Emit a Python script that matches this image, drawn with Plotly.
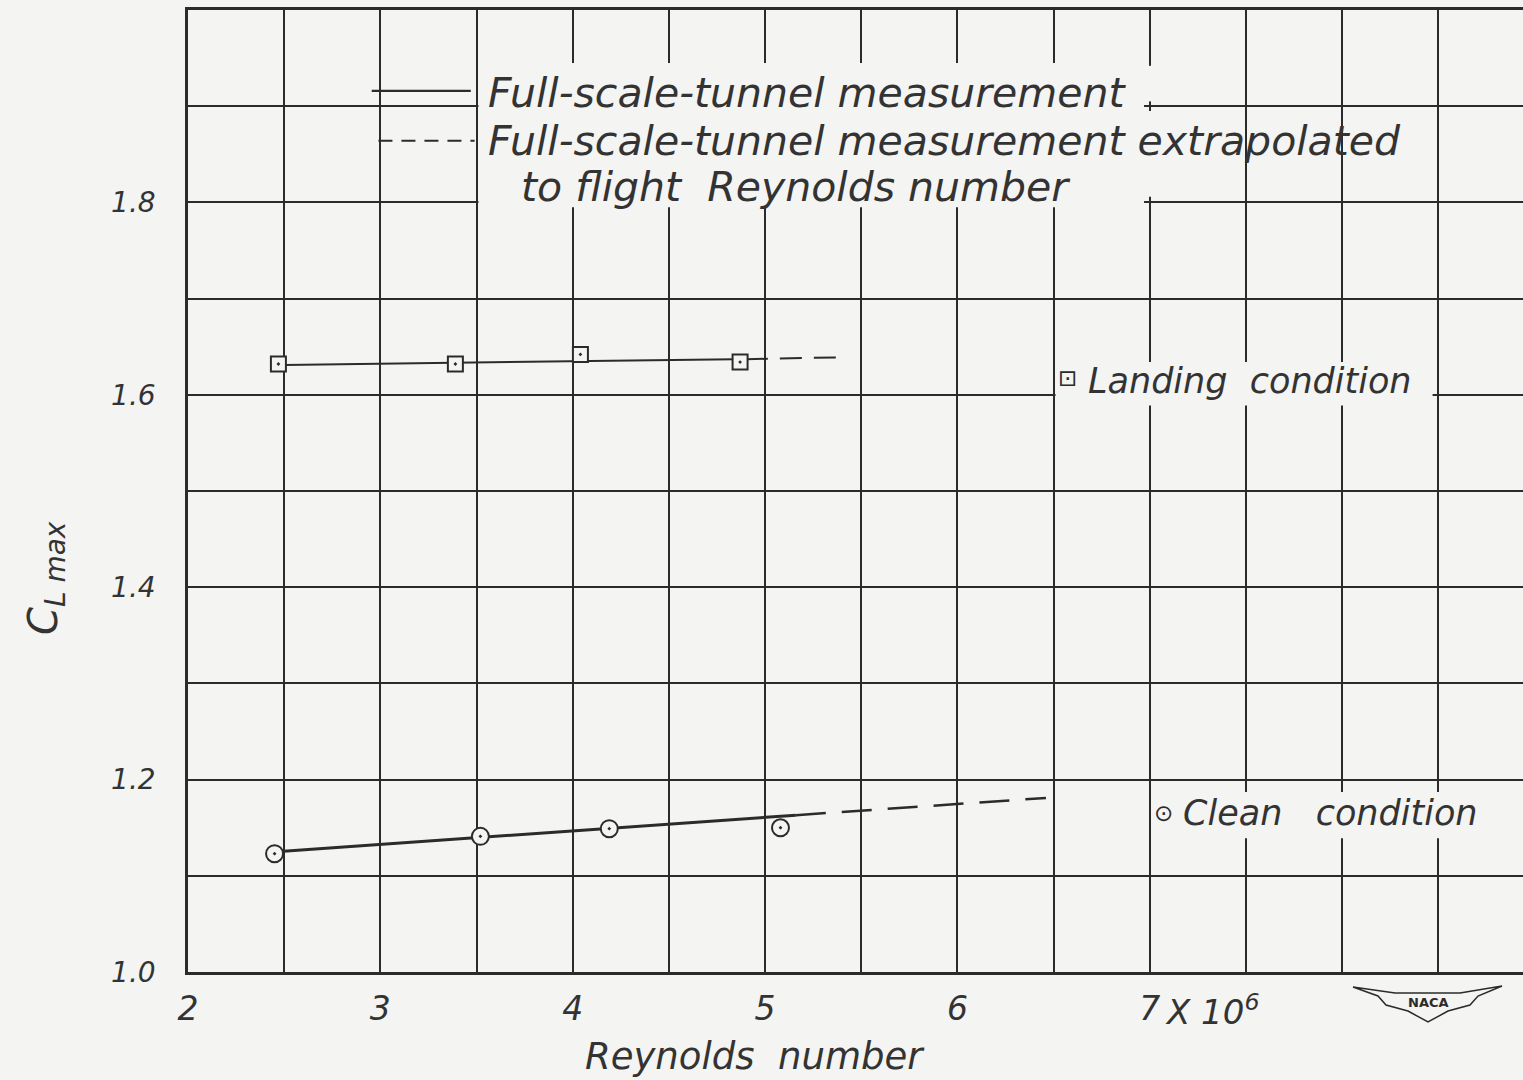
import plotly.graph_objects as go

# ---------------- data ----------------
landing_re = [2.47, 3.39, 4.04, 4.87]
landing_cl = [1.632, 1.632, 1.642, 1.634]
landing_fair_re = [2.50, 4.84]
landing_fair_cl = [1.631, 1.637]
landing_extrap_re = [4.90, 5.40]
landing_extrap_cl = [1.637, 1.639]

clean_re = [2.45, 3.52, 4.19, 5.08]
clean_cl = [1.123, 1.141, 1.149, 1.150]
clean_fair_re = [2.46, 5.16]
clean_fair_cl = [1.125, 1.163]
clean_extrap_re = [5.16, 6.46]
clean_extrap_cl = [1.163, 1.181]

x_tick_vals = [2, 3, 4, 5, 6, 7]
x_tick_text = ["2", "3", "4", "5", "6", "7"]
y_tick_vals = [1.0, 1.2, 1.4, 1.6, 1.8]
y_tick_text = ["1.0", "1.2", "1.4", "1.6", "1.8"]

legend_lines = [
    "Full-scale-tunnel measurement",
    "Full-scale-tunnel measurement extrapolated",
    "to flight  Reynolds number",
]
x_title = "Reynolds  number"
y_title = "C<sub>L max</sub>"
landing_label = "Landing  condition"
clean_label = "Clean   condition"
exponent_label = "X 10<sup>6</sup>"

# ---------------- style ----------------
INK = "#2b2b2b"
TXT = "#333333"
BG = "#f4f4f2"
FONT = "DejaVu Sans, sans-serif"
GRID_W = 2.4

fig = go.Figure()

# fairing lines
fig.add_trace(go.Scatter(x=landing_fair_re, y=landing_fair_cl, mode="lines",
                         line=dict(color=INK, width=2), hoverinfo="skip"))
fig.add_trace(go.Scatter(x=landing_extrap_re, y=landing_extrap_cl, mode="lines",
                         line=dict(color=INK, width=2, dash="22px,12px"), hoverinfo="skip"))
fig.add_trace(go.Scatter(x=clean_fair_re, y=clean_fair_cl, mode="lines",
                         line=dict(color=INK, width=3), hoverinfo="skip"))
fig.add_trace(go.Scatter(x=clean_extrap_re, y=clean_extrap_cl, mode="lines",
                         line=dict(color=INK, width=2.5, dash="30px,16px"), hoverinfo="skip"))

# measured points
fig.add_trace(go.Scatter(x=landing_re, y=landing_cl, mode="markers",
                         marker=dict(symbol="square-dot", size=15, color=BG,
                                     line=dict(color=INK, width=2))))
fig.add_trace(go.Scatter(x=clean_re, y=clean_cl, mode="markers",
                         marker=dict(symbol="circle-dot", size=17, color=BG,
                                     line=dict(color=INK, width=2))))

# ---------------- blank areas behind lettering ----------------
def blank(x0, x1, y0, y1):
    fig.add_shape(type="rect", xref="x", yref="y", x0=x0, x1=x1, y0=y0, y1=y1,
                  fillcolor=BG, line=dict(width=0), layer="above")

blank(3.51, 6.97, 1.795, 1.945)
blank(6.97, 7.03, 1.905, 1.942)
blank(6.97, 7.03, 1.806, 1.895)
blank(6.51, 8.47, 1.589, 1.634)
blank(7.01, 8.80, 1.139, 1.187)

# legend key lines
fig.add_shape(type="line", xref="x", yref="y", x0=2.955, x1=3.47, y0=1.916, y1=1.916,
              line=dict(color=INK, width=2.2), layer="above")
fig.add_shape(type="line", xref="x", yref="y", x0=2.99, x1=3.49, y0=1.864, y1=1.864,
              line=dict(color=INK, width=2, dash="14px,9px"), layer="above")

tfont = dict(family=FONT, size=41, color=TXT, style="italic")
lfont = dict(family=FONT, size=35, color=TXT, style="italic")

fig.add_annotation(x=3.55, y=1.914, xref="x", yref="y", text=legend_lines[0],
                   showarrow=False, xanchor="left", yanchor="middle", font=tfont)
fig.add_annotation(x=3.55, y=1.864, xref="x", yref="y", text=legend_lines[1],
                   showarrow=False, xanchor="left", yanchor="middle", font=tfont)
fig.add_annotation(x=3.72, y=1.816, xref="x", yref="y", text=legend_lines[2],
                   showarrow=False, xanchor="left", yanchor="middle", font=tfont)

mark_font = dict(family="DejaVu Sans", size=23, color=INK)
fig.add_annotation(x=6.51, y=1.617, xref="x", yref="y", text="⊡", showarrow=False,
                   xanchor="left", yanchor="middle", font=mark_font)
fig.add_annotation(x=6.67, y=1.614, xref="x", yref="y", text=landing_label,
                   showarrow=False, xanchor="left", yanchor="middle", font=lfont)
fig.add_annotation(x=7.01, y=1.165, xref="x", yref="y", text="⊙", showarrow=False,
                   xanchor="left", yanchor="middle", font=mark_font)
fig.add_annotation(x=7.16, y=1.165, xref="x", yref="y", text=clean_label,
                   showarrow=False, xanchor="left", yanchor="middle", font=lfont)

# x exponent after the "7" tick label
fig.add_annotation(x=7.07, y=-0.04, xref="x", yref="paper", text=exponent_label,
                   showarrow=False, xanchor="left", yanchor="middle",
                   font=dict(family=FONT, size=34, color=TXT, style="italic"))

# axis titles
fig.add_annotation(x=(755 - 188) / 1335, y=(972 - 1056) / 962, xref="paper", yref="paper",
                   text=x_title, showarrow=False, xanchor="center", yanchor="middle",
                   font=dict(family=FONT, size=37, color=TXT, style="italic"))
fig.add_annotation(x=(46 - 188) / 1335, y=(972 - 578) / 962, xref="paper", yref="paper",
                   text=y_title, showarrow=False, textangle=-90,
                   xanchor="center", yanchor="middle",
                   font=dict(family=FONT, size=40, color=TXT, style="italic"))

# NACA emblem (decoration)
def px(xp, yp):
    return (xp - 188) / 1335, (972 - yp) / 962

pts = [(1353, 987), (1395, 993), (1460, 993), (1502, 986), (1478, 996), (1470, 1005),
       (1448, 1011), (1428, 1022), (1408, 1011), (1386, 1005), (1378, 996)]
path = "M " + " L ".join("%.5f,%.5f" % px(a, b) for a, b in pts) + " Z"
fig.add_shape(type="path", xref="paper", yref="paper", path=path,
              line=dict(color=INK, width=1.5), fillcolor=BG, layer="above")
nx, ny = px(1428, 1002)
fig.add_annotation(x=nx, y=ny, xref="paper", yref="paper", text="<b>NACA</b>",
                   showarrow=False, xanchor="center", yanchor="middle",
                   font=dict(family="DejaVu Sans", size=13, color=INK))

fig.update_layout(
    width=1523, height=1080,
    margin=dict(l=188, r=0, t=10, b=108),
    paper_bgcolor=BG, plot_bgcolor=BG,
    showlegend=False,
)
fig.update_xaxes(
    range=[2, 8.94], tickvals=x_tick_vals, ticktext=x_tick_text,
    showgrid=True, gridcolor=INK, gridwidth=GRID_W,
    minor=dict(tick0=2, dtick=0.5, showgrid=True, gridcolor=INK, gridwidth=GRID_W),
    showline=True, linecolor=INK, linewidth=2.6, mirror=True,
    zeroline=False, ticks="", ticklabelstandoff=6,
    tickfont=dict(family=FONT, size=33, color=TXT, style="italic"),
)
fig.update_yaxes(
    range=[1.0, 2.0], tickvals=y_tick_vals, ticktext=y_tick_text,
    showgrid=True, gridcolor=INK, gridwidth=GRID_W,
    minor=dict(tick0=1.0, dtick=0.1, showgrid=True, gridcolor=INK, gridwidth=GRID_W),
    showline=True, linecolor=INK, linewidth=2.6,
    zeroline=False, ticks="", ticklabelstandoff=24,
    tickfont=dict(family=FONT, size=28, color=TXT, style="italic"),
)

fig.write_html("out.html")
